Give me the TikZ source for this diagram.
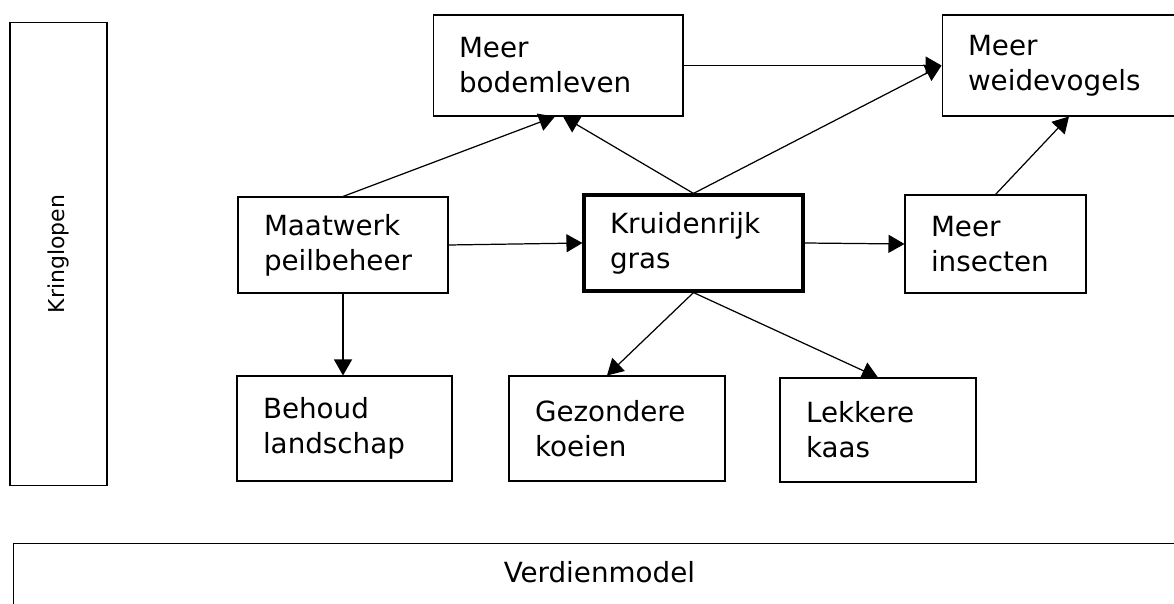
\documentclass[tikz,border=0pt]{standalone}
\usepackage{fontspec}
\setmainfont{DejaVu Sans}
\usetikzlibrary{arrows.meta}

\begin{document}
\begin{tikzpicture}[x=0.02cm, y=-0.02cm,
   blok/.style={draw, line width=0.6pt, align=left, inner xsep=0.52cm, inner ysep=0pt, font=\fontsize{15.8}{20}\selectfont},
   pijl/.style={-{Triangle[length=0.32cm, width=0.36cm]}, line width=0.7pt}]
   \clip (0,0) rectangle (1174,604);
   \fill [white] (0,0) rectangle (1174,604);
   \node [draw, line width=0.6pt, rotate=90, minimum width=9.28cm, minimum height=1.94cm, font=\fontsize{12.5}{15}\selectfont] (kring) at (58.5,254) {Kringlopen};
   \node [blok, minimum height=2.02cm, text width=3.96cm] (bodem) at (558,65.5) {Meer\\bodemleven};
   \node [blok, minimum height=2.02cm, text width=4.16cm] (vogels) at (1072,65.5) {Meer\\weidevogels};
   \node [blok, minimum height=1.92cm, text width=3.16cm] (peil) at (343,245) {Maatwerk\\peilbeheer};
   \node [blok, line width=1.8pt, minimum height=1.92cm, text width=3.34cm] (gras) at (693.5,243) {Kruidenrijk\\gras};
   \node [blok, minimum height=1.96cm, text width=2.58cm] (insect) at (995.5,244) {Meer\\insecten};
   \node [blok, minimum height=2.1cm, text width=3.26cm] (behoud) at (344.5,428.5) {Behoud\\landschap};
   \node [blok, minimum height=2.1cm, text width=3.28cm] (gezond) at (617,428.5) {Gezondere\\koeien};
   \node [blok, minimum height=2.08cm, text width=2.88cm] (kaas) at (878,430) {Lekkere\\kaas};
   \node [draw, line width=0.6pt, anchor=north west, inner ysep=0pt, text height=0.78cm, text depth=1.6cm, minimum width=23.44cm, font=\fontsize{15.8}{20}\selectfont] (verdien) at (13,543) {Verdienmodel};
   \draw [pijl] (bodem.east) -- (vogels.west);
   \draw [pijl] (peil.north) -- ([xshift=-0.06cm]bodem.south);
   \draw [pijl] (gras.north) -- ([xshift=0.1cm]bodem.south);
   \draw [pijl] (gras.north) -- (vogels.west);
   \draw [pijl] (peil.east) -- (gras.west);
   \draw [pijl] (gras.east) -- (insect.west);
   \draw [pijl] (insect.north) -- ([xshift=-0.06cm]vogels.south);
   \draw [pijl] (peil.south) -- (peil.south |- behoud.north);
   \draw [pijl] (gras.south) -- ([xshift=-0.2cm]gezond.north);
   \draw [pijl] (gras.south) -- (kaas.north);
\end{tikzpicture}
\end{document}
